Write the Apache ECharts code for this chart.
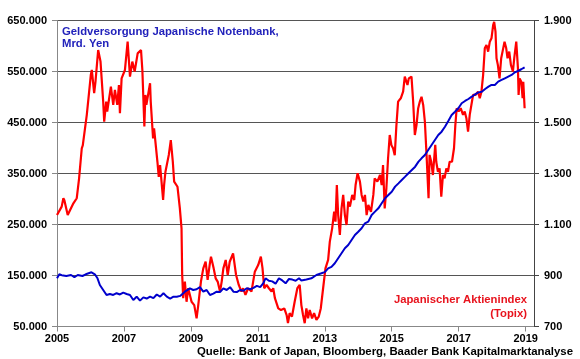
<!DOCTYPE html>
<html>
<head>
<meta charset="utf-8">
<script src="https://cdn.jsdelivr.net/npm/echarts@6/dist/echarts.min.js"></script>
<style>
html,body{margin:0;padding:0;background:#fff;}
#chart{width:580px;height:359px;}
</style>
</head>
<body>
<div id="chart"></div>
<script>
// ---- Data ----
var xTicks = [2005, 2007, 2009, 2011, 2013, 2015, 2017, 2019];
var leftTicks = [50000, 150000, 250000, 350000, 450000, 550000, 650000];
var rightTicks = [700, 900, 1100, 1300, 1500, 1700, 1900];

// Topix (right axis)
var topixX = [2005.0,2005.14,2005.19,2005.22,2005.32,2005.37,2005.49,2005.59,2005.66,2005.74,2005.77,2005.89,2005.94,2006.01,2006.04,2006.11,2006.15,2006.23,2006.30,2006.38,2006.41,2006.47,2006.50,2006.61,2006.68,2006.73,2006.80,2006.85,2006.88,2006.93,2007.03,2007.11,2007.18,2007.25,2007.32,2007.41,2007.51,2007.55,2007.61,2007.64,2007.67,2007.78,2007.80,2007.87,2007.90,2008.00,2008.04,2008.08,2008.17,2008.20,2008.24,2008.34,2008.40,2008.46,2008.50,2008.60,2008.67,2008.72,2008.74,2008.77,2008.82,2008.87,2008.92,2008.97,2009.02,2009.10,2009.17,2009.22,2009.30,2009.37,2009.44,2009.50,2009.56,2009.60,2009.68,2009.74,2009.80,2009.87,2009.92,2009.97,2010.04,2010.10,2010.16,2010.26,2010.30,2010.35,2010.43,2010.51,2010.56,2010.63,2010.71,2010.81,2010.91,2011.01,2011.09,2011.14,2011.19,2011.26,2011.33,2011.41,2011.46,2011.51,2011.61,2011.69,2011.79,2011.86,2011.90,2011.95,2012.02,2012.10,2012.18,2012.25,2012.30,2012.35,2012.40,2012.45,2012.50,2012.55,2012.62,2012.68,2012.75,2012.82,2012.88,2012.95,2013.02,2013.10,2013.15,2013.22,2013.28,2013.32,2013.36,2013.40,2013.45,2013.50,2013.55,2013.60,2013.65,2013.70,2013.75,2013.82,2013.88,2013.92,2013.98,2014.05,2014.10,2014.15,2014.20,2014.25,2014.30,2014.38,2014.45,2014.49,2014.57,2014.65,2014.70,2014.74,2014.79,2014.84,2014.89,2014.94,2014.99,2015.04,2015.09,2015.14,2015.19,2015.27,2015.34,2015.39,2015.47,2015.51,2015.59,2015.64,2015.69,2015.74,2015.79,2015.84,2015.89,2015.94,2015.99,2016.04,2016.10,2016.13,2016.18,2016.23,2016.30,2016.33,2016.38,2016.43,2016.48,2016.53,2016.58,2016.63,2016.68,2016.73,2016.80,2016.86,2016.90,2016.94,2017.00,2017.06,2017.13,2017.18,2017.23,2017.28,2017.33,2017.38,2017.43,2017.50,2017.58,2017.63,2017.68,2017.73,2017.78,2017.83,2017.88,2017.93,2017.98,2018.03,2018.06,2018.10,2018.13,2018.17,2018.22,2018.27,2018.31,2018.37,2018.42,2018.46,2018.51,2018.56,2018.62,2018.66,2018.72,2018.77,2018.79,2018.82,2018.87,2018.91,2018.93,2018.97];
var topixV = [1137,1170,1203,1195,1137,1137,1183,1203,1281,1399,1410,1530,1595,1686,1706,1615,1660,1784,1739,1582,1503,1582,1543,1641,1569,1628,1569,1647,1536,1673,1706,1817,1680,1739,1700,1771,1784,1706,1484,1608,1569,1654,1582,1438,1477,1346,1287,1333,1196,1255,1307,1373,1431,1346,1268,1248,1163,1085,902,811,876,797,850,856,797,784,732,784,876,928,954,883,941,974,928,889,876,837,876,928,961,902,954,987,980,902,863,837,850,824,850,837,915,941,974,928,850,863,850,837,850,811,771,765,771,745,713,752,739,797,850,863,784,745,713,771,732,765,732,752,726,739,771,850,928,961,1033,1085,1150,1111,1255,1137,1059,1163,1216,1137,1098,1190,1170,1216,1196,1255,1301,1268,1216,1190,1216,1137,1177,1150,1216,1281,1268,1294,1255,1333,1163,1242,1359,1451,1411,1399,1372,1490,1582,1595,1621,1680,1647,1673,1680,1582,1451,1490,1556,1582,1601,1569,1503,1373,1203,1373,1346,1294,1412,1346,1307,1320,1209,1294,1281,1320,1307,1346,1346,1399,1490,1556,1543,1556,1530,1543,1517,1464,1530,1569,1608,1608,1621,1595,1621,1686,1791,1804,1778,1817,1830,1882,1895,1856,1752,1726,1673,1752,1778,1817,1791,1752,1778,1726,1700,1752,1817,1713,1608,1673,1660,1595,1660,1556];

// Geldversorgung (left axis, Mrd. Yen)
var baseX = [2005.0,2005.07,2005.14,2005.28,2005.42,2005.52,2005.62,2005.76,2005.86,2006.03,2006.13,2006.21,2006.28,2006.38,2006.48,2006.58,2006.68,2006.78,2006.88,2006.98,2007.08,2007.18,2007.28,2007.38,2007.48,2007.58,2007.68,2007.78,2007.88,2007.98,2008.08,2008.18,2008.28,2008.38,2008.48,2008.58,2008.68,2008.82,2008.97,2009.07,2009.17,2009.27,2009.37,2009.47,2009.57,2009.67,2009.77,2009.87,2009.97,2010.07,2010.17,2010.27,2010.37,2010.47,2010.57,2010.67,2010.77,2010.87,2010.97,2011.07,2011.16,2011.23,2011.33,2011.43,2011.53,2011.63,2011.73,2011.83,2011.93,2012.03,2012.13,2012.23,2012.30,2012.45,2012.60,2012.75,2012.90,2013.0,2013.1,2013.2,2013.3,2013.4,2013.5,2013.6,2013.7,2013.8,2013.9,2014.0,2014.1,2014.2,2014.3,2014.4,2014.5,2014.6,2014.7,2014.8,2014.9,2015.0,2015.1,2015.2,2015.3,2015.4,2015.5,2015.6,2015.7,2015.8,2015.89,2015.99,2016.09,2016.19,2016.29,2016.39,2016.49,2016.59,2016.69,2016.79,2016.89,2016.99,2017.09,2017.19,2017.29,2017.39,2017.49,2017.59,2017.69,2017.79,2017.89,2017.98,2018.08,2018.18,2018.28,2018.38,2018.48,2018.58,2018.68,2018.77,2018.87,2018.97];
var baseV = [144500,152400,150700,149000,151000,146500,151000,149000,152400,156300,152400,144500,131400,121600,111800,113700,111800,115300,112800,116400,113700,111800,102000,108500,100700,107100,104800,108500,105600,112800,108500,115300,108500,104800,108500,108500,110000,118300,124900,121600,123000,127100,118300,121600,111800,114500,118300,117500,124900,121600,127100,118300,117500,121600,120000,124900,123000,125700,129600,127100,134700,144500,139800,138500,134000,144500,140300,134700,143200,142000,139800,144500,140300,142000,144500,151000,154300,156700,164100,167000,174000,183700,193500,203300,209800,219600,229400,235900,242600,252400,255600,268700,275200,281700,291600,301400,307900,314300,324200,330700,337300,343800,350400,356900,363400,373300,379800,386300,396100,405900,415700,425500,432000,441800,453000,464700,471200,477900,487700,492200,496100,500600,505200,509100,510400,515700,520300,523600,523600,530100,533400,536700,540000,543200,548400,551000,554400,558300];

var blueTitle = ['Geldversorgung Japanische Notenbank,', 'Mrd. Yen'];
var redTitle = ['Japanischer Aktienindex', '(Topix)'];
var sourceText = 'Quelle: Bank of Japan, Bloomberg, Baader Bank Kapitalmarktanalyse';

function zip(xs, ys) { return xs.map(function (x, i) { return [x, ys[i]]; }); }
function dots(v) { return String(v).replace(/\B(?=(\d{3})+(?!\d))/g, '.'); }

var FONT = '"Liberation Sans", Arial, sans-serif';
var chart = echarts.init(document.getElementById('chart'), null, { renderer: 'canvas' });

chart.setOption({
  animation: false,
  backgroundColor: '#ffffff',
  grid: { left: 57, right: 46, top: 20.5, bottom: 32.5, containLabel: false },
  xAxis: {
    type: 'value', min: 2005, max: 2019.25,
    axisLine: { show: true, lineStyle: { color: '#888888', width: 1 } },
    axisTick: { show: true, length: 5, customValues: xTicks, lineStyle: { color: '#888888' } },
    axisLabel: { customValues: xTicks, margin: 7, color: '#000', fontFamily: FONT, fontWeight: 'bold', fontSize: 11,
      formatter: function (v) { return String(v); } },
    splitLine: { show: false }
  },
  yAxis: [
    {
      type: 'value', min: 50000, max: 650000, position: 'left',
      axisLine: { show: true, lineStyle: { color: '#888888', width: 1 } },
      axisTick: { show: true, length: 5, customValues: leftTicks, lineStyle: { color: '#888888' } },
      axisLabel: { customValues: leftTicks, margin: 10, color: '#000', fontFamily: FONT, fontWeight: 'bold', fontSize: 11,
        formatter: function (v) { return dots(v); } },
      splitLine: { show: true, lineStyle: { color: '#555555', width: 1 } }
    },
    {
      type: 'value', min: 700, max: 1900, position: 'right',
      axisLine: { show: true, lineStyle: { color: '#444444', width: 1 } },
      axisTick: { show: true, length: 5, customValues: rightTicks, lineStyle: { color: '#444444' } },
      axisLabel: { customValues: rightTicks, margin: 10, color: '#000', fontFamily: FONT, fontWeight: 'bold', fontSize: 11,
        formatter: function (v) { return dots(v); } },
      splitLine: { show: false }
    }
  ],
  series: [
    {
      name: redTitle.join(' '), type: 'line', yAxisIndex: 1, data: zip(topixX, topixV),
      showSymbol: false, symbol: 'none', lineStyle: { color: '#ff0000', width: 2.2 }, z: 2
    },
    {
      name: blueTitle.join(' '), type: 'line', yAxisIndex: 0, data: zip(baseX, baseV),
      showSymbol: false, symbol: 'none', lineStyle: { color: '#0000cc', width: 2 }, z: 3
    }
  ],
  graphic: [
    { type: 'text', left: 62, top: 26, z: 10,
      style: { text: blueTitle[0], fill: '#2222bb', font: 'bold 11.3px ' + FONT } },
    { type: 'text', left: 62, top: 38, z: 10,
      style: { text: blueTitle[1], fill: '#2222bb', font: 'bold 11.3px ' + FONT } },
    { type: 'text', right: 53, top: 294, z: 10,
      style: { text: redTitle[0], fill: '#e8141e', font: 'bold 11.3px ' + FONT } },
    { type: 'text', right: 53, top: 308, z: 10,
      style: { text: redTitle[1], fill: '#e8141e', font: 'bold 11.3px ' + FONT } },
    { type: 'text', right: 7, top: 346, z: 10,
      style: { text: sourceText, fill: '#000', font: 'bold 11.4px ' + FONT } }
  ]
});
</script>
</body>
</html>
